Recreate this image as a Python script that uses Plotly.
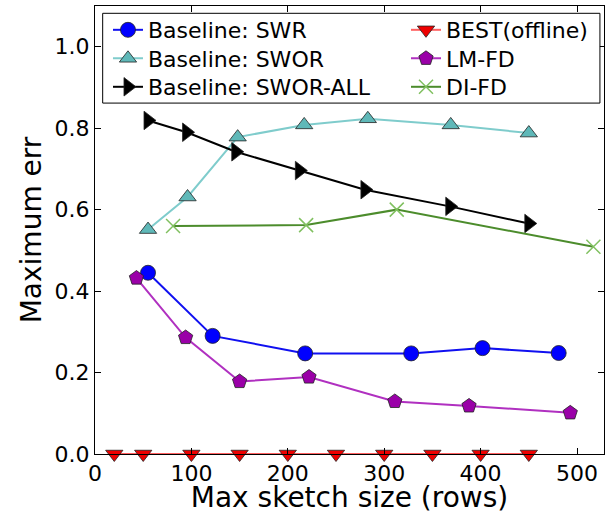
import plotly.graph_objects as go

swr_x = [55, 122, 218, 328, 402, 481]
swr_y = [0.445, 0.290, 0.247, 0.247, 0.260, 0.248]

swor_x = [55, 96, 148, 217, 283, 369, 450]
swor_y = [0.551, 0.631, 0.778, 0.808, 0.823, 0.808, 0.788]

sworall_x = [55, 95, 146, 212, 280, 368, 450]
sworall_y = [0.819, 0.790, 0.742, 0.696, 0.649, 0.608, 0.566]

best_x = [20, 50, 100, 150, 200, 250, 300, 350, 400, 450]
best_y = [0, 0, 0, 0, 0, 0, 0, 0, 0, 0]

lmfd_x = [43, 94, 150, 222, 311, 388, 493]
lmfd_y = [0.432, 0.286, 0.178, 0.189, 0.129, 0.118, 0.101]

difd_x = [81, 219, 313, 517]
difd_y = [0.560, 0.562, 0.600, 0.509]

x_ticks = [0, 100, 200, 300, 400, 500]
y_ticks = [0.0, 0.2, 0.4, 0.6, 0.8, 1.0]

FONT = "DejaVu Sans"
edge = dict(color="#222222", width=0.8)

fig = go.Figure()
fig.add_trace(go.Scatter(x=swr_x, y=swr_y, name="Baseline: SWR", mode="lines+markers",
                         line=dict(color="#1010f0", width=2),
                         marker=dict(symbol="circle", size=15, color="#0000ff", line=edge),
                         legend="legend"))
fig.add_trace(go.Scatter(x=swor_x, y=swor_y, name="Baseline: SWOR", mode="lines+markers",
                         line=dict(color="#7fcccc", width=2),
                         marker=dict(symbol="triangle-up", size=15, color="#5fb8b8", line=edge),
                         legend="legend2"))
fig.add_trace(go.Scatter(x=sworall_x, y=sworall_y, name="Baseline: SWOR-ALL", mode="lines+markers",
                         line=dict(color="#000000", width=2),
                         marker=dict(symbol="triangle-right", size=16, color="#000000", line=edge),
                         legend="legend3"))
fig.add_trace(go.Scatter(x=best_x, y=best_y, name="BEST(offline)", mode="lines+markers",
                         line=dict(color="#ff6060", width=2),
                         marker=dict(symbol="triangle-down", size=15, color="#ee0000", line=edge),
                         cliponaxis=False,
                         legend="legend4"))
fig.add_trace(go.Scatter(x=lmfd_x, y=lmfd_y, name="LM-FD", mode="lines+markers",
                         line=dict(color="#b030c0", width=2),
                         marker=dict(symbol="pentagon", size=15, color="#9a00a8", line=edge),
                         legend="legend5"))
fig.add_trace(go.Scatter(x=difd_x, y=difd_y, name="DI-FD", mode="lines+markers",
                         line=dict(color="#4c8c2c", width=2),
                         marker=dict(symbol="x-thin", size=14, color="#80c060",
                                     line=dict(color="#80c060", width=1.5)),
                         cliponaxis=False,
                         legend="legend6"))

axis_common = dict(showgrid=False, zeroline=False, showline=True, mirror="allticks",
                   linecolor="#000000", linewidth=1, ticks="inside", ticklen=6,
                   tickcolor="#000000",
                   tickfont=dict(family=FONT, size=22, color="#000000"))

fig.update_xaxes(range=[0, 528], tickvals=x_ticks, ticktext=[str(v) for v in x_ticks],
                 automargin=True,
                 title=dict(text="Max sketch size (rows)", font=dict(family=FONT, size=28, color="#000"),
                            standoff=5),
                 **axis_common)
fig.update_yaxes(range=[0, 1.1], tickvals=y_ticks, ticktext=[f"{v:.1f}" for v in y_ticks],
                 automargin=False,
                 title=dict(text="Maximum err", font=dict(family=FONT, size=28, color="#000"),
                            standoff=4),
                 **axis_common)

# legend frame (matplotlib-style box around both legend columns)
fig.add_shape(type="rect", xref="paper", yref="paper",
              x0=0.0151, x1=0.992, y0=0.7833, y1=0.9837,
              line=dict(color="#000000", width=1), fillcolor="white", layer="above")

leg_common = dict(bgcolor="rgba(0,0,0,0)", borderwidth=0,
                  font=dict(family=FONT, size=22, color="#000"),
                  itemwidth=30, tracegroupgap=0, xanchor="left", yanchor="middle")

col1_x, col2_x = 0.0255, 0.611
row_y = [0.9464, 0.8828, 0.8192]

fig.update_layout(
    width=611, height=514,
    margin=dict(l=95, r=7, t=6, b=60, autoexpand=False),
    paper_bgcolor="white", plot_bgcolor="white",
    font=dict(family=FONT, color="#000"),
    showlegend=True,
    legend=dict(x=col1_x, y=row_y[0], **leg_common),
    legend2=dict(x=col1_x, y=row_y[1], **leg_common),
    legend3=dict(x=col1_x, y=row_y[2], **leg_common),
    legend4=dict(x=col2_x, y=row_y[0], **leg_common),
    legend5=dict(x=col2_x, y=row_y[1], **leg_common),
    legend6=dict(x=col2_x, y=row_y[2], **leg_common),
)

fig.write_html("out.html", config={"displayModeBar": False},
               post_script="document.body.style.margin='0px';")
